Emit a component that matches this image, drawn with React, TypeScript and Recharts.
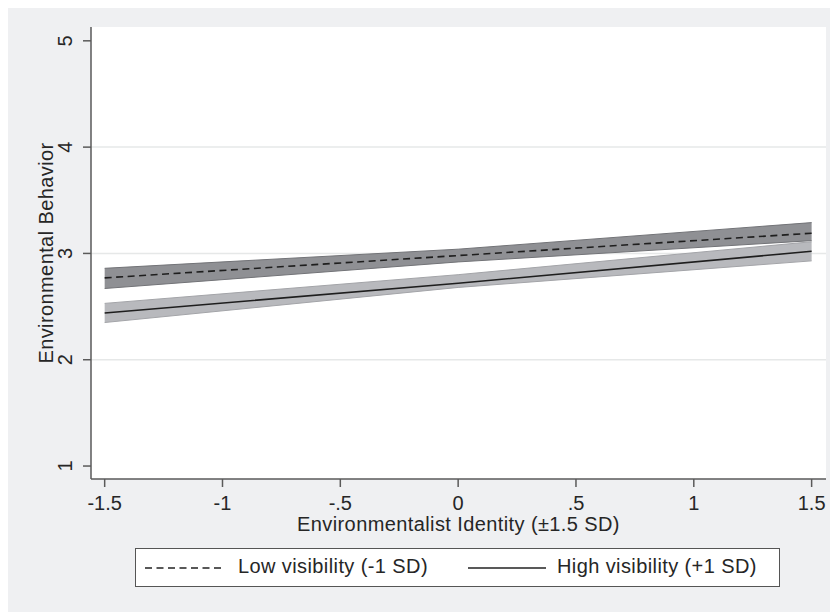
import React from "react";
import {
  ComposedChart,
  Area,
  Line,
  XAxis,
  YAxis,
  CartesianGrid,
  Legend,
} from "recharts";

// identity values (standardised) at which the fitted lines are evaluated
const identity = [-1.5, 0, 1.5];

// low visibility (-1 SD): fit and 95% band
const lowFit = [2.77, 2.98, 3.19];
const lowLower = [2.67, 2.92, 3.12];
const lowUpper = [2.86, 3.04, 3.29];

// high visibility (+1 SD): fit and 95% band
const highFit = [2.44, 2.72, 3.02];
const highLower = [2.35, 2.68, 2.93];
const highUpper = [2.53, 2.8, 3.11];

const xTicks = [-1.5, -1, -0.5, 0, 0.5, 1, 1.5];
const xTickLabels = ["-1.5", "-1", "-.5", "0", ".5", "1", "1.5"];
const yTicks = [1, 2, 3, 4, 5];
const yGrid = [2, 3, 4];

const data = identity.map((x, i) => ({
  x,
  lowBand: [lowLower[i], lowUpper[i]],
  lowFit: lowFit[i],
  highBand: [highLower[i], highUpper[i]],
  highFit: highFit[i],
}));

const FONT = "'Liberation Sans', Arial, Helvetica, sans-serif";
const FS = 20;
const TEXT = "#262626";
const AXIS = "#5a5a5a";

const XTick = (props: any) => {
  const { x, y, payload } = props;
  const i = xTicks.indexOf(payload.value);
  return (
    <text x={x} y={y + 23} textAnchor="middle" fontSize={FS} fontFamily={FONT} fill={TEXT}>
      {i >= 0 ? xTickLabels[i] : payload.value}
    </text>
  );
};

const YTick = (props: any) => {
  const { x, y, payload } = props;
  const tx = x - 11;
  return (
    <text
      x={tx}
      y={y}
      textAnchor="middle"
      fontSize={FS}
      fontFamily={FONT}
      fill={TEXT}
      transform={`rotate(-90, ${tx}, ${y})`}
    >
      {payload.value}
    </text>
  );
};

const YTitle = (props: any) => {
  const vb = props.viewBox || { x: 0, y: 20, width: 83, height: 452 };
  const tx = 45;
  const ty = vb.y + vb.height / 2;
  return (
    <text
      x={tx}
      y={ty}
      textAnchor="middle"
      fontSize={FS}
      fontFamily={FONT}
      letterSpacing={0.4}
      fill={TEXT}
      transform={`rotate(-90, ${tx}, ${ty})`}
    >
      Environmental Behavior
    </text>
  );
};

const LegendBox = () => (
  <div
    style={{
      position: "relative",
      width: 643,
      height: 37,
      background: "#fff",
      border: "1.5px solid #555",
      fontFamily: FONT,
      fontSize: FS,
      letterSpacing: 0.4,
      color: TEXT,
    }}
  >
    <svg width={80} height={4} style={{ position: "absolute", left: 9, top: 17 }}>
      <line x1={0} y1={2} x2={80} y2={2} stroke="#222" strokeWidth={1.5} strokeDasharray="7 4.5" />
    </svg>
    <span style={{ position: "absolute", left: 102, top: 6 }}>Low visibility (-1 SD)</span>
    <svg width={78} height={4} style={{ position: "absolute", left: 332, top: 17 }}>
      <line x1={0} y1={2} x2={78} y2={2} stroke="#222" strokeWidth={1.5} />
    </svg>
    <span style={{ position: "absolute", left: 421, top: 6 }}>High visibility (+1 SD)</span>
  </div>
);

export default function App() {
  return (
    <div style={{ marginTop: -1, width: 830, height: 605, background: "#eff0f2" }}>
      <ComposedChart
        width={830}
        height={605}
        data={data}
        margin={{ top: 20, right: 12, left: 0, bottom: 0 }}
      >
        <CartesianGrid
          vertical={false}
          horizontalValues={yGrid}
          stroke="#e6e8e8"
          strokeWidth={1.5}
          fill="#ffffff"
          fillOpacity={1}
        />
        <XAxis
          type="number"
          dataKey="x"
          domain={[-1.558, 1.561]}
          ticks={xTicks}
          tick={<XTick />}
          tickSize={8}
          tickMargin={0}
          height={133}
          stroke={AXIS}
          strokeWidth={1.5}
          allowDataOverflow
          label={{
            value: "Environmentalist Identity (±1.5 SD)",
            position: "insideTop",
            offset: 38,
            fontSize: FS,
            fontFamily: FONT,
            letterSpacing: 0.4,
            fill: TEXT,
          }}
        />
        <YAxis
          type="number"
          domain={[0.878, 5.13]}
          ticks={yTicks}
          tick={<YTick />}
          tickSize={8}
          tickMargin={0}
          width={83}
          stroke={AXIS}
          strokeWidth={1.5}
          allowDataOverflow
          label={<YTitle />}
        />
        <Legend
          layout="vertical"
          verticalAlign="middle"
          align="center"
          content={<LegendBox />}
          wrapperStyle={{ position: "absolute", left: 127, top: 541, width: 646, height: 40 }}
        />
        <Area
          type="linear"
          dataKey="lowBand"
          stroke="#727377"
          strokeWidth={1}
          fill="#8f9094"
          fillOpacity={1}
          isAnimationActive={false}
          legendType="none"
        />
        <Area
          type="linear"
          dataKey="highBand"
          stroke="#a3a4a8"
          strokeWidth={1}
          fill="#b8b9bd"
          fillOpacity={1}
          isAnimationActive={false}
          legendType="none"
        />
        <Line
          type="linear"
          dataKey="lowFit"
          name="Low visibility (-1 SD)"
          stroke="#1e1e1e"
          strokeWidth={1.6}
          strokeDasharray="7 4.5"
          dot={false}
          isAnimationActive={false}
        />
        <Line
          type="linear"
          dataKey="highFit"
          name="High visibility (+1 SD)"
          stroke="#1e1e1e"
          strokeWidth={1.6}
          dot={false}
          isAnimationActive={false}
        />
      </ComposedChart>
    </div>
  );
}
